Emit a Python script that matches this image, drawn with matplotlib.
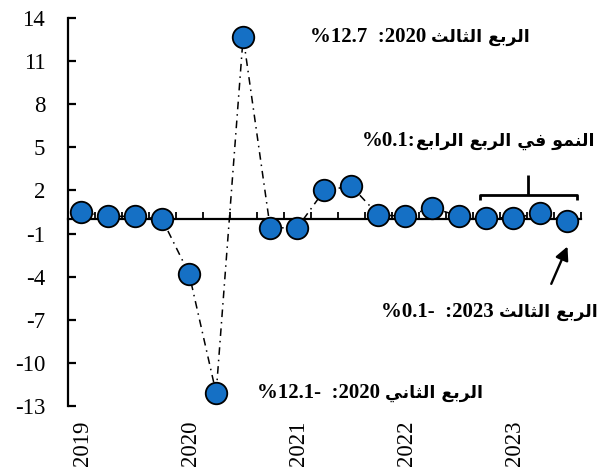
import matplotlib
matplotlib.use("Agg")
import matplotlib.pyplot as plt
from matplotlib.transforms import blended_transform_factory

# Quarterly growth, 2019 Q1 .. 2023 Q3 (%)
quarters = ["2019Q1", "2019Q2", "2019Q3", "2019Q4",
            "2020Q1", "2020Q2", "2020Q3", "2020Q4",
            "2021Q1", "2021Q2", "2021Q3", "2021Q4",
            "2022Q1", "2022Q2", "2022Q3", "2022Q4",
            "2023Q1", "2023Q2", "2023Q3"]
growth = [0.5, 0.2, 0.2, 0.0,
          -3.8, -12.1, 12.7, -0.6,
          -0.6, 2.0, 2.3, 0.3,
          0.2, 0.8, 0.2, 0.1,
          0.1, 0.4, -0.1]
year_labels = ["2019", "2020", "2021", "2022", "2023"]
y_ticks = [14, 11, 8, 5, 2, -1, -4, -7, -10, -13]
q4_growth = 0.1

plt.rcParams["axes.unicode_minus"] = False

# --- minimal Arabic shaping (contextual forms + visual RTL order) ---
FORMS = {
    "ا": ("\uFE8D", "\uFE8E", None, None),
    "ب": ("\uFE8F", "\uFE90", "\uFE91", "\uFE92"),
    "ث": ("\uFE99", "\uFE9A", "\uFE9B", "\uFE9C"),
    "ر": ("\uFEAD", "\uFEAE", None, None),
    "ع": ("\uFEC9", "\uFECA", "\uFECB", "\uFECC"),
    "ف": ("\uFED1", "\uFED2", "\uFED3", "\uFED4"),
    "ل": ("\uFEDD", "\uFEDE", "\uFEDF", "\uFEE0"),
    "م": ("\uFEE1", "\uFEE2", "\uFEE3", "\uFEE4"),
    "ن": ("\uFEE5", "\uFEE6", "\uFEE7", "\uFEE8"),
    "و": ("\uFEED", "\uFEEE", None, None),
    "ي": ("\uFEF1", "\uFEF2", "\uFEF3", "\uFEF4"),
}


def rtl(text):
    out = []
    n = len(text)
    for i, ch in enumerate(text):
        if ch not in FORMS:
            out.append(ch)
            continue
        iso, fin, ini, med = FORMS[ch]
        prev = text[i - 1] if i > 0 else ""
        nxt = text[i + 1] if i + 1 < n else ""
        jp = prev in FORMS and FORMS[prev][2] is not None
        jn = nxt in FORMS and ini is not None
        if jp and jn:
            out.append(med)
        elif jp:
            out.append(fin)
        elif jn:
            out.append(ini)
        else:
            out.append(iso)
    return "".join(reversed(out))


def pct(v):
    s = f"%{abs(v):.1f}"
    return s + "-" if v < 0 else s


W, H = 606, 472
fig = plt.figure(figsize=(W / 100, H / 100), dpi=100)
ax = fig.add_axes([67.5 / W, 1 - 406 / H, (581 - 67.5) / W, (406 - 18) / H])

x = list(range(len(quarters)))
ax.plot(x, growth, color="black", lw=1.1, dashes=(5, 3.2, 1, 3.2), zorder=2)
ax.plot(x, growth, ls="none", marker="o", markersize=15.5,
        markerfacecolor="#1570C5", markeredgecolor="black",
        markeredgewidth=1.3, zorder=4)

ax.set_xlim(-0.5, len(quarters) - 0.5)
ax.set_ylim(min(y_ticks), max(y_ticks))

for s in ("top", "right"):
    ax.spines[s].set_visible(False)
ax.spines["left"].set_linewidth(1.6)
ax.spines["bottom"].set_linewidth(1.6)
ax.spines["bottom"].set_position(("data", 0))
ax.spines["bottom"].set_zorder(3)

ax.set_yticks(y_ticks)
ax.set_yticklabels([str(t) for t in y_ticks])
ax.tick_params(axis="y", direction="in", length=6, width=1.6, pad=16,
               labelsize=16.5)
for lab in ax.get_yticklabels():
    lab.set_fontfamily("Liberation Serif")

ax.set_xticks([i - 0.5 for i in range(len(quarters) + 1)])
ax.set_xticklabels([])
ax.tick_params(axis="x", direction="in", length=5, width=1.3)

trans = blended_transform_factory(ax.transData, ax.transAxes)
for k, yl in enumerate(year_labels):
    ax.text(4 * k + 0.05, -0.037, yl, transform=trans, rotation=90,
            ha="center", va="top", fontsize=16.5, family="Liberation Serif")

num_font = dict(family="Liberation Serif", weight="bold", fontsize=15,
                color="black")
ar_font = dict(family="DejaVu Sans", weight="bold", fontsize=12.5,
               color="black")

fig.canvas.draw()
renderer = fig.canvas.get_renderer()


def label(right_px, base_px, number, arabic, gap):
    """Arabic phrase right-aligned at right_px, numeric part to its left."""
    t_ar = fig.text(right_px / W, 1 - base_px / H, rtl(arabic),
                    ha="right", va="baseline", **ar_font)
    bb = t_ar.get_window_extent(renderer)
    fig.text((bb.x0 - gap) / W, 1 - base_px / H, number,
             ha="right", va="baseline", **num_font)


i_q3_20 = quarters.index("2020Q3")
i_q2_20 = quarters.index("2020Q2")
i_q3_23 = quarters.index("2023Q3")

label(530, 42, f"{pct(growth[i_q3_20])}  :2020", "الربع الثالث", 5)
label(483, 398, f"{pct(growth[i_q2_20])}  :2020", "الربع الثاني", 5)
label(598, 317, f"{pct(growth[i_q3_23])}  :2023", "الربع الثالث", 5)
label(595, 146, f"{pct(q4_growth)}:", "النمو في الربع الرابع", 1)

# bracket over the last four quarters
bx0, bx1, by, btop, bend = 14.75, 18.35, 1.67, 3.1, 1.35
ax.plot([bx0, bx0, bx1, bx1], [bend, by, by, bend], color="black", lw=2,
        solid_capstyle="butt", clip_on=False, zorder=5)
ax.plot([(bx0 + bx1) / 2] * 2, [by, btop], color="black", lw=2,
        solid_capstyle="butt", clip_on=False, zorder=5)

# arrow pointing at the latest quarter
ax.annotate("", xy=(i_q3_23, growth[i_q3_23] - 1.8),
            xytext=(i_q3_23 - 0.6, growth[i_q3_23] - 4.4),
            arrowprops=dict(arrowstyle="-|>", color="black", lw=1.7,
                            mutation_scale=20, shrinkA=0, shrinkB=0))

fig.savefig("out.png", dpi=100)
